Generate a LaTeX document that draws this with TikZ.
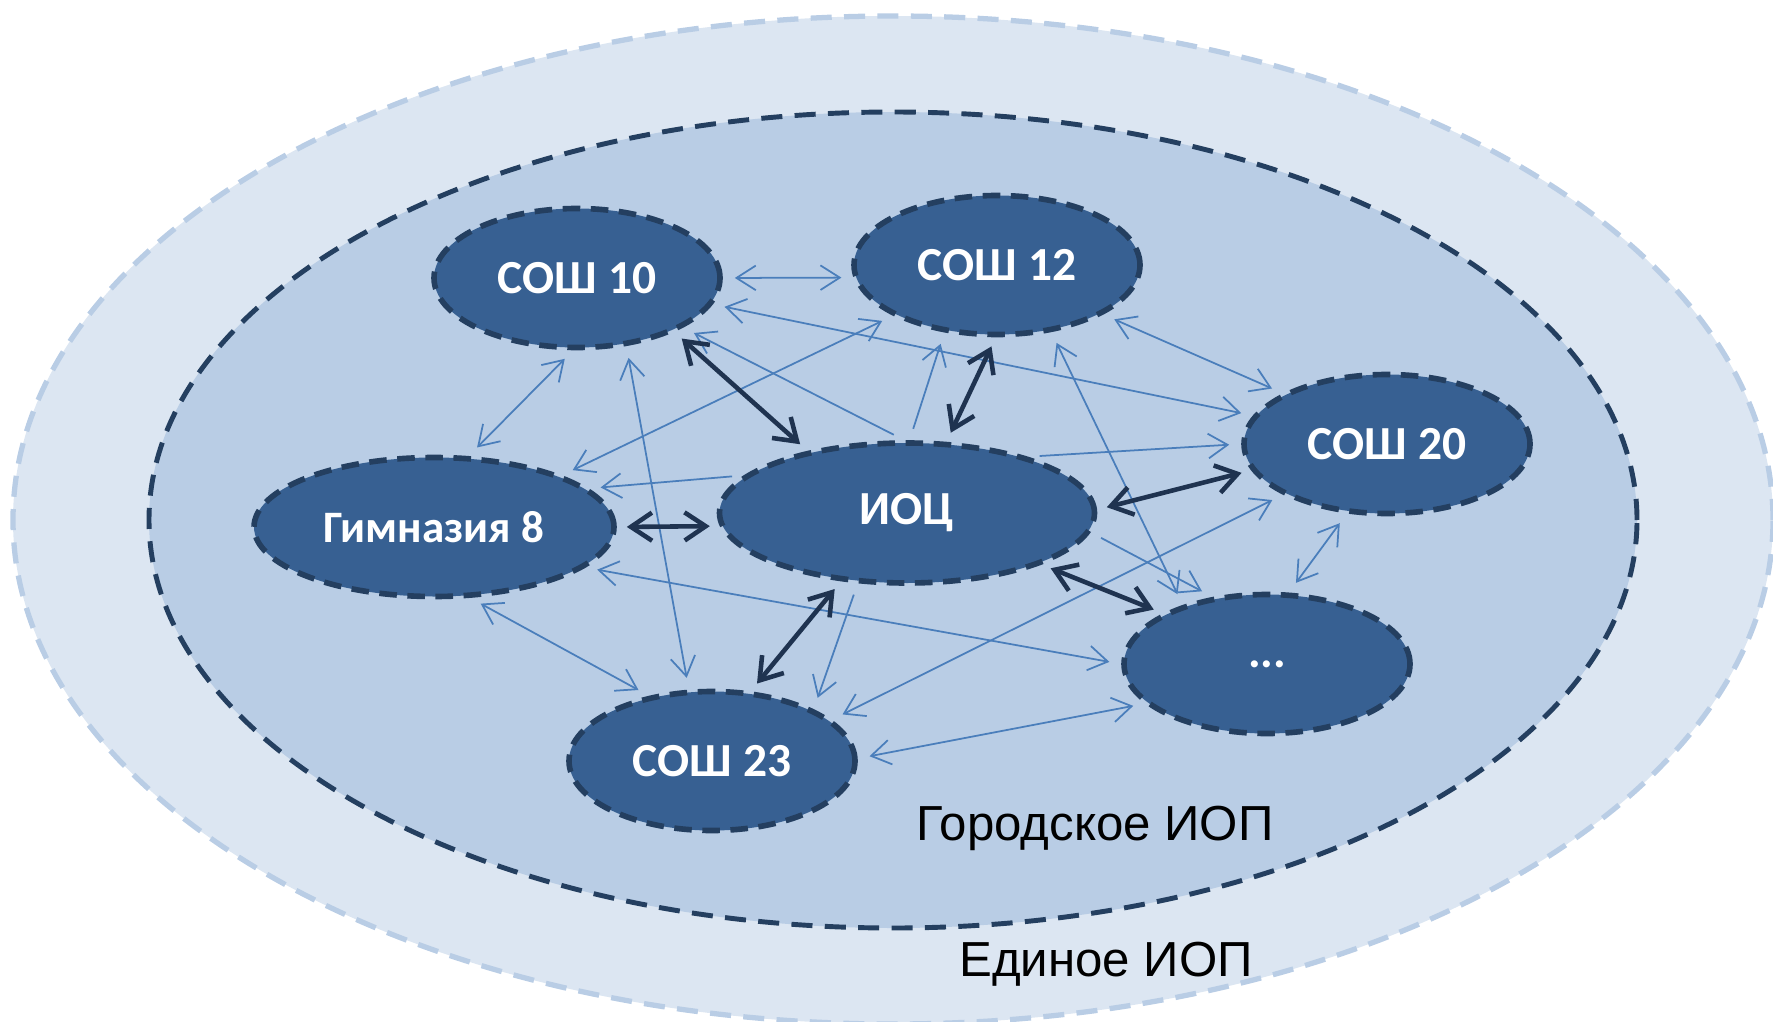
\documentclass[tikz,border=0pt]{standalone}
\usepackage{fontspec}
\setmainfont{Liberation Sans}
\newfontfamily\schoolfont{Carlito}
\usetikzlibrary{arrows.meta,shapes.geometric}

\definecolor{zoneout}{HTML}{DCE6F2}
\definecolor{zoneline}{HTML}{B9CDE5}
\definecolor{zonein}{HTML}{B9CDE5}
\definecolor{navy}{HTML}{243F60}
\definecolor{schoolblue}{HTML}{376092}
\definecolor{linkblue}{HTML}{4A7EBB}
\definecolor{mainnavy}{HTML}{1F3350}

\begin{document}
\begin{tikzpicture}[
  school/.style={ellipse, fill=schoolblue, draw=navy, line width=1.6pt,
    dash pattern=on 5pt off 3pt, minimum width=2.86cm, minimum height=1.39cm,
    inner sep=0pt, text=white, font=\schoolfont\bfseries\fontsize{13.5}{15}\selectfont},
  link/.style={linkblue, line width=0.5pt, >={Straight Barb[length=5.5pt,width=7pt]},
    shorten <=1.2mm, shorten >=1.2mm},
  mainlink/.style={mainnavy, line width=1.3pt, >={Straight Barb[length=6pt,width=8pt]},
    shorten <=1mm, shorten >=1mm},
  zonelabel/.style={font=\fontsize{14}{16}\selectfont, text=black}
]

\useasboundingbox (0,0) rectangle (17.73,10.21);
\clip (0,0) rectangle (17.73,10.21);

\draw [fill=zoneout, draw=zoneline, line width=1.5pt, dash pattern=on 6pt off 3.5pt]
  (8.93,5.01) ellipse [x radius=8.80, y radius=5.04];
\draw [fill=zonein, draw=navy, line width=1.4pt, dash pattern=on 6pt off 3.5pt]
  (8.93,5.01) ellipse [x radius=7.44, y radius=4.08];

\node [school] (s10) at (5.77,7.43) {СОШ 10};
\node [school] (s12) at (9.97,7.56) {СОШ 12};
\node [school] (s20) at (13.87,5.77) {СОШ 20};
\node [school, minimum width=3.6cm, font=\schoolfont\bfseries\fontsize{12.8}{15}\selectfont]
  (gym) at (4.34,4.94) {Гимназия 8};
\node [school, minimum width=3.75cm, minimum height=1.4cm] (ioc) at (9.07,5.08) {ИОЦ};
\node [school] (dots) at (12.67,3.57) {...};
\node [school] (s23) at (7.12,2.60) {СОШ 23};

\foreach \a/\b in {s10.0/s12.185, s10.267/gym.64, s12.206/gym.22, s10.349/s20.168,
    s10.306/s23.108, s12.335/s20.154, s12.309/dots.145, s20.240/dots.73,
    gym.345/dots.180, gym.297/s23.134, s20.206/s23.19, s23.1/dots.198}
  \draw [link,<->] (\a) -- (\b);

\foreach \a/\b in {92/s10.335, 88/s12.232, 167/gym.14, 25/s20.180,
    354/dots.129, 235/s23.27}
  \draw [link,->] (ioc.\a) -- (\b);

\foreach \a/\b in {148/s10.331, 61/s12.269, 1/s20.191, 184/gym.0,
    339/dots.154, 226/s23.61}
  \draw [mainlink,<->] (ioc.\a) -- (\b);

\node [zonelabel] (cityiop) at (10.95,1.93) {Городское ИОП};
\node [zonelabel] (unitediop) at (11.06,0.565) {Единое ИОП};

\end{tikzpicture}
\end{document}
